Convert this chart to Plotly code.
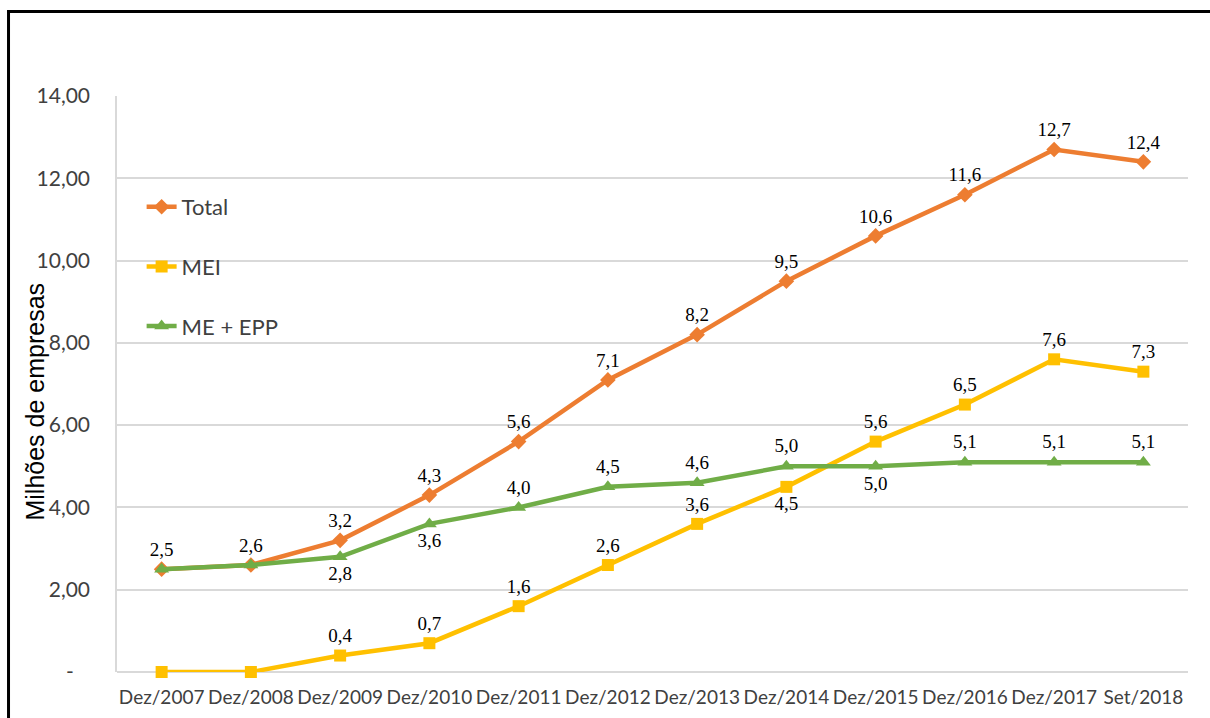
import plotly.graph_objects as go

categories = ["Dez/2007", "Dez/2008", "Dez/2009", "Dez/2010", "Dez/2011", "Dez/2012",
              "Dez/2013", "Dez/2014", "Dez/2015", "Dez/2016", "Dez/2017", "Set/2018"]
total = [2.5, 2.6, 3.2, 4.3, 5.6, 7.1, 8.2, 9.5, 10.6, 11.6, 12.7, 12.4]
mei = [0.0, 0.0, 0.4, 0.7, 1.6, 2.6, 3.6, 4.5, 5.6, 6.5, 7.6, 7.3]
me_epp = [2.5, 2.6, 2.8, 3.6, 4.0, 4.5, 4.6, 5.0, 5.0, 5.1, 5.1, 5.1]

total_pos = ["top center"] * 12
mei_pos = ["top center"] * 12
mei_pos[7] = "bottom center"
epp_pos = ["top center"] * 12
epp_pos[2] = "bottom center"
epp_pos[3] = "bottom center"
epp_pos[8] = "bottom center"

def fmt(v):
    return f"{v:.1f}".replace(".", ",")

total_txt = [fmt(v) for v in total]
mei_txt = ["" if v == 0 else fmt(v) for v in mei]
epp_txt = ["", ""] + [fmt(v) for v in me_epp[2:]]

ytick_vals = [0, 2, 4, 6, 8, 10, 12, 14]
ytick_text = ["-\u00a0\u00a0\u00a0", "2,00", "4,00", "6,00", "8,00", "10,00", "12,00", "14,00"]

L, R, T, B = 117.4, 22.4, 96, 46
W = 1210 - L - R
H = 718 - T - B

def px(x):
    return (x - L) / W

def py(y):
    return (718 - B - y) / H

label_font = dict(family="Liberation Serif", size=19, color="#000000")

fig = go.Figure()
fig.add_trace(go.Scatter(
    x=categories, y=total, name="Total", mode="lines+markers+text",
    line=dict(color="#ED7D31", width=4.5),
    marker=dict(symbol="diamond", size=12, color="#ED7D31"),
    text=total_txt, textposition=total_pos, textfont=label_font,
    legendgroup="a", cliponaxis=False))
fig.add_trace(go.Scatter(
    x=categories, y=mei, name="MEI", mode="lines+markers+text",
    line=dict(color="#FFC000", width=4.5),
    marker=dict(symbol="square", size=12, color="#FFC000"),
    text=mei_txt, textposition=mei_pos, textfont=label_font,
    legendgroup="b", cliponaxis=False))
fig.add_trace(go.Scatter(
    x=categories, y=me_epp, name="ME + EPP", mode="lines+markers+text",
    line=dict(color="#70AD47", width=4.5),
    marker=dict(symbol="triangle-up", size=13, color="#70AD47"),
    text=epp_txt, textposition=epp_pos, textfont=label_font,
    legendgroup="c", cliponaxis=False))

fig.update_layout(
    width=1210, height=718,
    margin=dict(l=L, r=R, t=T, b=B, autoexpand=False),
    paper_bgcolor="white", plot_bgcolor="white",
    showlegend=True,
    legend=dict(x=px(142), y=py(186), xanchor="left", yanchor="top",
                font=dict(family="Lato", size=22, color="#404040"),
                bgcolor="rgba(0,0,0,0)", tracegroupgap=28,
                traceorder="grouped"),
    xaxis=dict(type="category", showgrid=False, showline=False, ticks="",
               ticklabelstandoff=12, automargin=False,
               tickfont=dict(family="Lato", size=19, color="#404040"),
               range=[-0.5, 11.5]),
    yaxis=dict(range=[0, 14], tickvals=ytick_vals, ticktext=ytick_text,
               showgrid=True, gridcolor="#D9D9D9", gridwidth=1.5,
               zeroline=True, zerolinecolor="#D9D9D9", zerolinewidth=1.5,
               showline=True, linecolor="#D9D9D9", linewidth=1.5,
               ticks="", ticklabelstandoff=21, automargin=False,
               tickfont=dict(family="Lato", size=21, color="#404040")),
    annotations=[dict(text="Milhões de empresas", xref="paper", yref="paper",
                      x=px(35), y=py(402), xanchor="center", yanchor="middle",
                      textangle=-90, showarrow=False,
                      font=dict(family="Liberation Sans", size=25, color="#000000"))],
    shapes=[
        dict(type="line", xref="paper", yref="paper", x0=px(8), x1=px(1215),
             y0=py(11.5), y1=py(11.5), line=dict(color="black", width=3)),
        dict(type="line", xref="paper", yref="paper", x0=px(9), x1=px(9),
             y0=py(10), y1=py(725), line=dict(color="black", width=3)),
    ],
)

fig.write_html("out.html")
